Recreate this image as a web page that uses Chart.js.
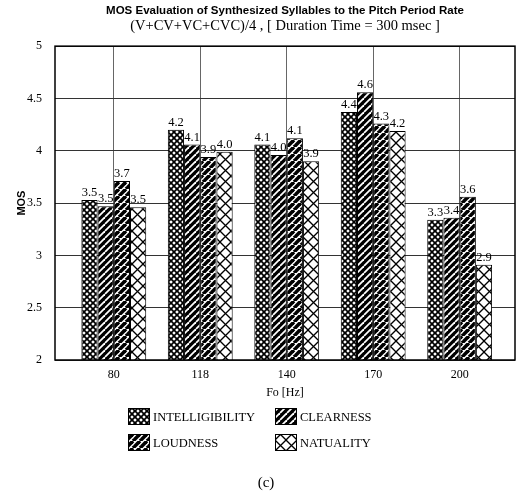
<!DOCTYPE html>
<html>
<head>
<meta charset="utf-8">
<script src="https://cdn.jsdelivr.net/npm/chart.js@4.4.0/dist/chart.umd.min.js"></script>
<style>
  html, body { margin: 0; padding: 0; background: #fff; }
</style>
</head>
<body>
<canvas id="mosChart" width="532" height="497"></canvas>
<script>
// Data
const fo = ["80", "118", "140", "170", "200"];
const seriesNames = ["INTELLIGIBILITY", "CLEARNESS", "LOUDNESS", "NATUALITY"];
const intelligibility = [3.53, 4.20, 4.06, 4.37, 3.34];
const clearness = [3.47, 4.06, 3.96, 4.56, 3.36];
const loudness = [3.71, 3.94, 4.12, 4.26, 3.56];
const natuality = [3.46, 3.99, 3.90, 4.19, 2.91];
const yTicks = [2, 2.5, 3, 3.5, 4, 4.5, 5];

const serif = "'Liberation Serif', 'Times New Roman', serif";
const sans = "'Liberation Sans', Arial, sans-serif";

// ----------- HATCH PATTERNS -----------
function makePattern(size, bg, draw) {
  const c = document.createElement("canvas");
  c.width = size;
  c.height = size;
  const g = c.getContext("2d");
  g.fillStyle = bg;
  g.fillRect(0, 0, size, size);
  draw(g, size);
  return g.createPattern(c, "repeat");
}

function diag(g, s, up) {
  for (let k = -1; k <= 1; k++) {
    g.beginPath();
    if (up) { g.moveTo(k * s, s); g.lineTo(k * s + s, 0); }
    else { g.moveTo(k * s, 0); g.lineTo(k * s + s, s); }
    g.stroke();
  }
}

const fills = [
  makePattern(6, "#fff", (g, s) => { g.strokeStyle = "#000"; g.lineWidth = 1.7; diag(g, s, true); diag(g, s, false); }),
  makePattern(7, "#000", (g, s) => { g.strokeStyle = "#fff"; g.lineWidth = 1.8; diag(g, s, true); }),
  makePattern(7, "#fff", (g, s) => { g.strokeStyle = "#000"; g.lineWidth = 3.6; diag(g, s, true); }),
  makePattern(11, "#fff", (g, s) => { g.strokeStyle = "#000"; g.lineWidth = 1.3; diag(g, s, true); diag(g, s, false); })
];

const seriesValues = [intelligibility, clearness, loudness, natuality];

// value labels above bars, frame, legend and caption
const extras = {
  id: "extras",
  afterDatasetsDraw(chart) {
    const ctx = chart.ctx;
    const a = chart.chartArea;
    ctx.save();
    ctx.font = "12.5px " + serif;
    ctx.fillStyle = "#000";
    ctx.textAlign = "center";
    ctx.textBaseline = "bottom";
    chart.data.datasets.forEach((ds, d) => {
      chart.getDatasetMeta(d).data.forEach((bar, i) => {
        ctx.fillText(seriesValues[d][i].toFixed(1), bar.x, bar.y - 1);
      });
    });
    ctx.strokeStyle = "#000";
    ctx.lineWidth = 1.5;
    ctx.strokeRect(a.left, a.top, a.right - a.left, a.bottom - a.top);
    ctx.restore();
  },
  afterDraw(chart) {
    const ctx = chart.ctx;
    const colX = [128, 275];
    const rowY = [417, 443];
    ctx.save();
    ctx.font = "12.5px " + serif;
    ctx.textBaseline = "middle";
    ctx.textAlign = "left";
    chart.data.datasets.forEach((ds, d) => {
      const x = colX[d % 2];
      const y = rowY[Math.floor(d / 2)];
      ctx.fillStyle = ds.backgroundColor;
      ctx.fillRect(x, y - 9, 22, 17);
      ctx.strokeStyle = "#000";
      ctx.lineWidth = 1;
      ctx.strokeRect(x + 0.5, y - 8.5, 21, 16);
      ctx.fillStyle = "#000";
      ctx.fillText(ds.label, x + 25, y + 1);
    });
    ctx.font = "15px " + serif;
    ctx.textAlign = "center";
    ctx.fillText("(c)", 266, 483);
    ctx.restore();
  }
};

const ctx = document.getElementById("mosChart").getContext("2d");

new Chart(ctx, {
  type: "bar",
  data: {
    datasets: seriesValues.map((vals, d) => ({
      label: seriesNames[d],
      data: vals.map((v, i) => ({ x: i, y: v })),
      backgroundColor: fills[d],
      borderColor: "#000",
      borderWidth: 1,
      categoryPercentage: 0.75,
      barPercentage: 1.0
    }))
  },
  options: {
    responsive: false,
    animation: false,
    layout: { padding: { top: 0, left: 0, right: 17, bottom: 97 } },
    plugins: {
      legend: { display: false },
      tooltip: { enabled: false },
      title: {
        display: true,
        fullSize: false,
        text: "MOS Evaluation of Synthesized Syllables to the Pitch Period Rate",
        color: "#000",
        font: { family: sans, size: 11.5, weight: "bold", lineHeight: 1.1 },
        padding: { top: 5, bottom: 0 }
      },
      subtitle: {
        display: true,
        fullSize: false,
        text: "(V+CV+VC+CVC)/4 , [ Duration Time = 300 msec ]",
        color: "#000",
        font: { family: serif, size: 14.5, lineHeight: 1.0 },
        padding: { top: 1, bottom: 13 }
      }
    },
    scales: {
      x: {
        type: "linear",
        min: -0.68,
        max: 4.64,
        offset: false,
        afterBuildTicks: s => { s.ticks = fo.map((_, i) => ({ value: i })); },
        afterFit: s => { s.height = 40; },
        ticks: {
          callback: v => fo[v],
          color: "#000",
          font: { family: serif, size: 12 },
          padding: 8,
          maxRotation: 0
        },
        grid: { color: "#666", lineWidth: 1, drawTicks: false, offset: false },
        border: { display: false },
        title: {
          display: true,
          text: "Fo [Hz]",
          color: "#000",
          font: { family: serif, size: 12 },
          padding: { top: 0, bottom: 0 }
        }
      },
      y: {
        min: 2,
        max: 5,
        afterBuildTicks: s => { s.ticks = yTicks.map(v => ({ value: v })); },
        afterFit: s => { s.width = 55; },
        ticks: {
          callback: v => String(v),
          color: "#000",
          font: { family: serif, size: 12 },
          padding: 13
        },
        grid: { color: "#333", lineWidth: 1, drawTicks: false },
        border: { display: false },
        title: {
          display: true,
          text: "MOS",
          color: "#000",
          font: { family: sans, size: 11, weight: "bold" },
          padding: { top: 15, bottom: 0 }
        }
      }
    }
  },
  plugins: [extras]
});
</script>
</body>
</html>
